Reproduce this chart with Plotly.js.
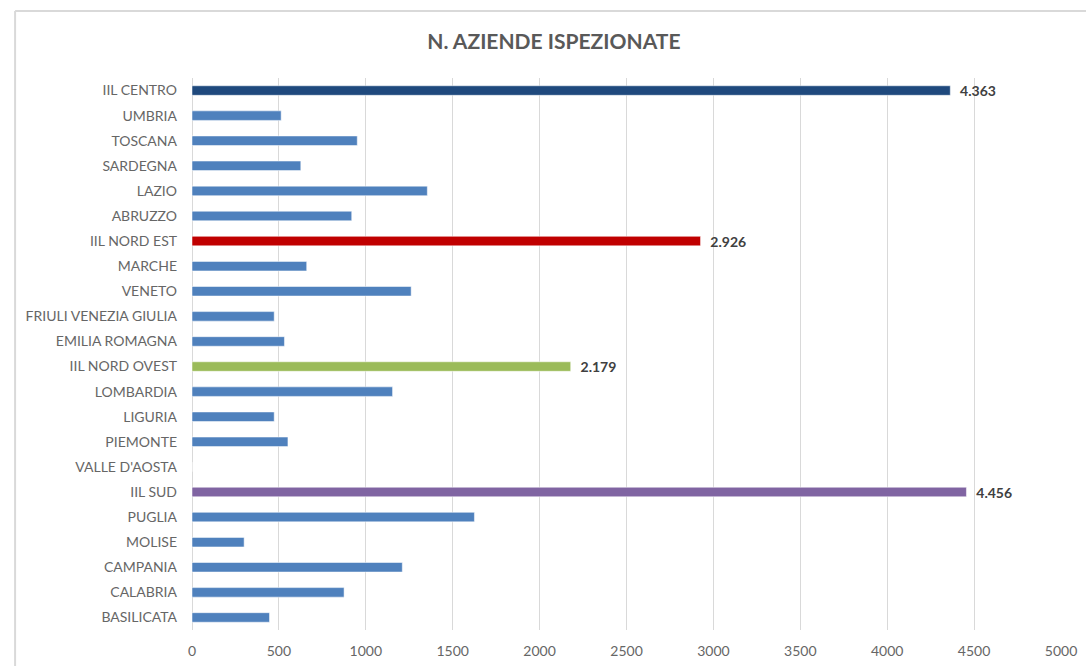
<!DOCTYPE html>
<html>
<head>
<meta charset="utf-8">
<script src="https://cdn.plot.ly/plotly-3.0.1.min.js"></script>
<style>html,body{margin:0;padding:0;background:#fff;}#chart{width:1086px;height:666px;}</style>
</head>
<body>
<div id="chart"></div>
<script>
// Categories listed bottom to top
const categories = [
  "BASILICATA", "CALABRIA", "CAMPANIA", "MOLISE", "PUGLIA", "IIL SUD",
  "VALLE D'AOSTA", "PIEMONTE", "LIGURIA", "LOMBARDIA", "IIL NORD OVEST",
  "EMILIA ROMAGNA", "FRIULI VENEZIA GIULIA", "VENETO", "MARCHE", "IIL NORD EST",
  "ABRUZZO", "LAZIO", "SARDEGNA", "TOSCANA", "UMBRIA", "IIL CENTRO"
];
const values = [
  446, 875, 1210, 300, 1625, 4456,
  0, 552, 473, 1154, 2179,
  532, 473, 1261, 660, 2926,
  919, 1354, 626, 951, 513, 4363
];
const aggregateColors = {
  "IIL SUD": "#8064A2",
  "IIL NORD OVEST": "#9BBB59",
  "IIL NORD EST": "#C00000",
  "IIL CENTRO": "#1F497D"
};
const regionColor = "#4F81BD";

const colors = categories.map(c => aggregateColors[c] || regionColor);
const templates = categories.map(c => aggregateColors[c] ? "  %{x:,}" : "");

const trace = {
  type: "bar",
  orientation: "h",
  y: categories,
  x: values,
  marker: { color: colors, line: { color: "rgba(255,255,255,0.5)", width: 1 } },
  texttemplate: templates,
  textposition: "outside",
  constraintext: "none",
  cliponaxis: false,
  outsidetextfont: { family: "Lato, 'Open Sans', sans-serif", size: 14, color: "#404040", weight: "bold" },
  textfont: { family: "Lato, 'Open Sans', sans-serif", size: 14, color: "#404040", weight: "bold" },
  hoverinfo: "none"
};

const layout = {
  width: 1086,
  height: 666,
  margin: { l: 192, r: 25, t: 78, b: 36 },
  paper_bgcolor: "#ffffff",
  plot_bgcolor: "#ffffff",
  separators: ",.",
  showlegend: false,
  bargap: 0.62,
  font: { family: "Lato, 'Open Sans', sans-serif", size: 14, color: "#666666" },
  title: {
    text: "<b>N. AZIENDE ISPEZIONATE</b>",
    x: 0.51, xanchor: "center",
    y: 1 - 42 / 666, yanchor: "middle",
    font: { family: "Lato, 'Open Sans', sans-serif", size: 21, color: "#595959" }
  },
  xaxis: {
    range: [0, 5000],
    dtick: 500,
    tick0: 0,
    showgrid: true,
    gridcolor: "#D9D9D9",
    gridwidth: 1,
    zeroline: true,
    zerolinecolor: "#D9D9D9",
    zerolinewidth: 1,
    showline: false,
    ticks: "",
    ticklabelstandoff: 11,
    tickfont: { size: 14, color: "#666666" },
    fixedrange: true
  },
  yaxis: {
    type: "category",
    showgrid: false,
    zeroline: false,
    showline: false,
    ticks: "",
    ticklabelstandoff: 14,
    tickfont: { size: 14, color: "#666666" },
    fixedrange: true
  },
  shapes: [
    { type: "line", xref: "paper", yref: "paper", x0: -182/894, x1: 1.2, y0: 1 + 67/552, y1: 1 + 67/552,
      line: { color: "#D9D9D9", width: 2 } },
    { type: "line", xref: "paper", yref: "paper", x0: -182/894, x1: -182/894, y0: -0.2, y1: 1 + 67/552,
      line: { color: "#D9D9D9", width: 2 } }
  ]
};

Plotly.newPlot("chart", [trace], layout, { displayModeBar: false, staticPlot: true });
</script>
</body>
</html>
